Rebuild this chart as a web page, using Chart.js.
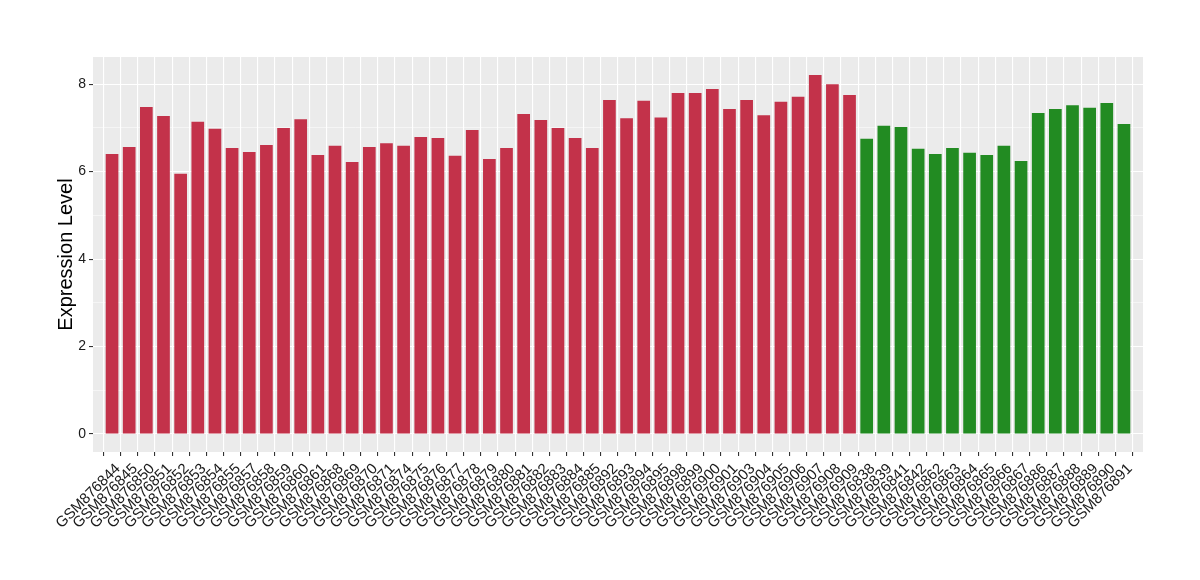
<!DOCTYPE html>
<html>
<head>
<meta charset="utf-8">
<script src="https://cdn.jsdelivr.net/npm/chart.js@4/dist/chart.umd.min.js"></script>
<style>
html,body{margin:0;padding:0;background:#fff;}
#wrap{width:1200px;height:580px;position:relative;}
</style>
</head>
<body>
<div id="wrap"><canvas id="c" width="1200" height="580"></canvas></div>
<script>
const categories = [
 "GSM876844","GSM876845","GSM876850","GSM876851","GSM876852","GSM876853","GSM876854","GSM876855","GSM876857","GSM876858",
 "GSM876859","GSM876860","GSM876861","GSM876868","GSM876869","GSM876870","GSM876871","GSM876874","GSM876875","GSM876876",
 "GSM876877","GSM876878","GSM876879","GSM876880","GSM876881","GSM876882","GSM876883","GSM876884","GSM876885","GSM876892",
 "GSM876893","GSM876894","GSM876895","GSM876898","GSM876899","GSM876900","GSM876901","GSM876903","GSM876904","GSM876905",
 "GSM876906","GSM876907","GSM876908","GSM876909",
 "GSM876838","GSM876839","GSM876841","GSM876842","GSM876862","GSM876863","GSM876864","GSM876865","GSM876866","GSM876867",
 "GSM876886","GSM876887","GSM876888","GSM876889","GSM876890","GSM876891"
];
const values = [
 6.40,6.56,7.48,7.27,5.95,7.14,6.98,6.54,6.45,6.61,
 7.00,7.20,6.38,6.59,6.22,6.56,6.65,6.59,6.79,6.77,
 6.36,6.95,6.29,6.54,7.32,7.18,7.00,6.77,6.54,7.64,
 7.22,7.62,7.24,7.80,7.80,7.89,7.43,7.64,7.29,7.60,
 7.71,8.21,8.00,7.75,
 6.75,7.05,7.02,6.52,6.40,6.54,6.43,6.38,6.59,6.24,
 7.34,7.43,7.52,7.46,7.57,7.09
];
const groups = [
 "A","A","A","A","A","A","A","A","A","A","A","A","A","A","A","A","A","A","A","A",
 "A","A","A","A","A","A","A","A","A","A","A","A","A","A","A","A","A","A","A","A",
 "A","A","A","A",
 "B","B","B","B","B","B","B","B","B","B","B","B","B","B","B","B"
];
const groupColors = {A:"#C3324A", B:"#228B22"};
const yTicks = [0,2,4,6,8];

const maxV = Math.max(...values);
const yMin = -0.05*maxV, yMax = 1.05*maxV;

const panelBg = {
  id:'panelBg',
  beforeDraw(chart){
    const {ctx, chartArea:a} = chart;
    ctx.save();
    ctx.fillStyle = '#EBEBEB';
    ctx.fillRect(a.left, a.top, a.right-a.left, a.bottom-a.top);
    ctx.restore();
  }
};

new Chart(document.getElementById('c'), {
  type:'bar',
  data:{
    datasets:[{
      data: values.map((v,i)=>({x:i, y:v})),
      backgroundColor: groups.map(g=>groupColors[g]),
      borderWidth:0,
      barPercentage:0.74,
      categoryPercentage:1.0
    }]
  },
  plugins:[panelBg],
  options:{
    responsive:false,
    animation:false,
    layout:{padding:{top:57,right:57,left:54,bottom:0}},
    plugins:{legend:{display:false}, tooltip:{enabled:false}},
    scales:{
      x:{
        type:'linear',
        min:-0.6,
        max:categories.length-1+0.6,
        afterBuildTicks(s){ s.ticks = categories.map((_,i)=>({value:i})); },
        afterFit(s){ s.height = 128; },
        border:{display:false},
        grid:{color:'#FFFFFF', lineWidth:1.1, tickColor:'#333333', tickLength:4, drawTicks:true},
        ticks:{
          autoSkip:false, maxRotation:45, minRotation:45,
          color:'#1A1A1A', font:{family:'"Liberation Sans", Arial, sans-serif', size:15},
          padding:4,
          labelOffset:6,
          callback:(v)=>categories[v]
        }
      },
      y:{
        type:'linear',
        min:yMin, max:yMax,
        afterBuildTicks(s){
          const t=[]; for(let v=0; v<=Math.floor(yMax); v++) t.push({value:v});
          s.ticks=t;
        },
        afterFit(s){ s.width = 39; },
        border:{display:false},
        grid:{
          color:'#FFFFFF',
          lineWidth:(c)=> (c.tick && yTicks.includes(c.tick.value)) ? 1.1 : 0.5,
          tickColor:(c)=> (c.tick && yTicks.includes(c.tick.value)) ? '#333333' : 'rgba(0,0,0,0)',
          tickLength:4
        },
        ticks:{
          color:'#1A1A1A', font:{family:'"Liberation Sans", Arial, sans-serif', size:14},
          padding:3,
          callback:(v)=> yTicks.includes(v) ? String(v) : ''
        },
        title:{display:true, text:'Expression Level', color:'#000000',
          font:{family:'"Liberation Sans", Arial, sans-serif', size:20}, padding:{top:0,bottom:0}}
      }
    }
  }
});
</script>
</body>
</html>
